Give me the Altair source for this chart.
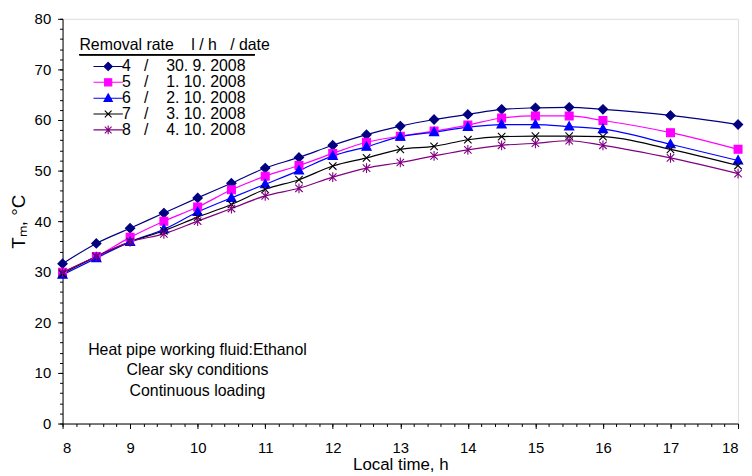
import altair as alt
import pandas as pd

hours = [8, 8.5, 9, 9.5, 10, 10.5, 11, 11.5, 12, 12.5, 13, 13.5, 14, 14.5, 15, 15.5, 16, 17, 18]

labels = [
    "4\u00a0\u00a0\u00a0/\u00a0\u00a0\u00a0\u00a030. 9. 2008",
    "5\u00a0\u00a0\u00a0/\u00a0\u00a0\u00a0\u00a01. 10. 2008",
    "6\u00a0\u00a0\u00a0/\u00a0\u00a0\u00a0\u00a02. 10. 2008",
    "7\u00a0\u00a0\u00a0/\u00a0\u00a0\u00a0\u00a03. 10. 2008",
    "8\u00a0\u00a0\u00a0/\u00a0\u00a0\u00a0\u00a04. 10. 2008",
]

s4 = [31.6, 35.6, 38.6, 41.6, 44.6, 47.5, 50.5, 52.6, 55.0, 57.1, 58.8, 60.1, 61.1, 62.1, 62.4, 62.5, 62.1, 60.9, 59.1]
s5 = [29.9, 33.0, 36.8, 40.0, 42.8, 46.2, 48.9, 51.0, 53.4, 55.6, 56.8, 57.8, 59.0, 60.4, 60.8, 60.8, 59.9, 57.5, 54.2]
s6 = [29.4, 32.7, 35.9, 38.4, 41.8, 44.6, 47.3, 50.0, 52.9, 54.7, 56.7, 57.6, 58.6, 59.1, 59.1, 58.7, 58.2, 55.2, 52.0]
s7 = [29.6, 33.0, 35.9, 38.1, 40.8, 43.3, 46.3, 48.2, 50.9, 52.5, 54.2, 54.8, 56.1, 56.7, 56.8, 56.8, 56.7, 54.2, 51.0]
s8 = [29.9, 33.0, 35.9, 37.5, 40.0, 42.5, 45.0, 46.5, 48.7, 50.5, 51.6, 52.9, 54.1, 55.0, 55.4, 55.9, 55.0, 52.5, 49.4]

series_values = [s4, s5, s6, s7, s8]
colors = ["#000080", "#FF00FF", "#0000FF", "#000000", "#800080"]

x_ticks = list(range(8, 19))
x_minor = [round(8 + 0.2 * i, 1) for i in range(51)]
y_ticks = list(range(0, 81, 10))
y_minor = list(range(0, 81, 2))

annotation = ["Heat pipe working fluid:Ethanol", "Clear sky conditions", "Continuous loading"]
legend_title = "Removal rate\u00a0\u00a0\u00a0\u00a0l / h\u00a0\u00a0\u00a0/ date"

marker_paths = [
    "M0,-1L1,0L0,1L-1,0Z",
    "M-0.85,-0.85L0.85,-0.85L0.85,0.85L-0.85,0.85Z",
    "M0,-1.05L1,0.75L-1,0.75Z",
    "M-0.8,-0.8L0.8,0.8M-0.8,0.8L0.8,-0.8",
    "M-0.8,-0.8L0.8,0.8M-0.8,0.8L0.8,-0.8M0,-1.05L0,1.05",
]
seg = "M-3.7,0L3.7,0"
legend_paths = [
    seg + "M0,-1.05L1.05,0L0,1.05L-1.05,0Z",
    seg + "M-0.9,-0.9L0.9,-0.9L0.9,0.9L-0.9,0.9Z",
    seg + "M0,-1.1L1.05,0.8L-1.05,0.8Z",
    seg + "M-0.85,-0.85L0.85,0.85M-0.85,0.85L0.85,-0.85",
    seg + "M-0.85,-0.85L0.85,0.85M-0.85,0.85L0.85,-0.85M0,-1.1L0,1.1",
]

rows = []
for lab, vals in zip(labels, series_values):
    for h, v in zip(hours, vals):
        rows.append({"series": lab, "hour": h, "temp": v})
df = pd.DataFrame(rows)

FONT = "Liberation Sans"
W, H = 681, 408

xscale = alt.Scale(domain=[8, 18], nice=False, zero=False)
yscale = alt.Scale(domain=[0, 80], nice=False)
cscale = alt.Scale(domain=labels, range=colors)

x_main = alt.X("hour:Q", scale=xscale, title="Local time, h",
               axis=alt.Axis(orient="bottom", values=x_ticks, format="d", tickSize=5, labelPadding=12,
                             titlePadding=1, grid=False, domainColor="#000000",
                             tickColor="#000000", labelFontSize=15, titleFontSize=17,
                             labelFont=FONT, titleFont=FONT, titleFontWeight="normal",
                             labelColor="#000000", titleColor="#000000"))
y_main = alt.Y("temp:Q", scale=yscale, title="Tₘ, °C",
               axis=alt.Axis(orient="left", values=y_ticks, format="d", tickSize=5, labelPadding=7,
                             titlePadding=6, grid=False, domainColor="#000000",
                             tickColor="#000000", labelFontSize=15, titleFontSize=19,
                             labelFont=FONT, titleFont=FONT, titleFontWeight="normal",
                             labelColor="#000000", titleColor="#000000"))

lines = alt.Chart(df).mark_line(interpolate="monotone", strokeWidth=1.2).encode(
    x=x_main,
    y=y_main,
    color=alt.Color("series:N", scale=cscale, legend=None),
    detail="series:N",
)

points = alt.Chart(df).mark_point(size=88, strokeWidth=1.1, opacity=1).encode(
    x=alt.X("hour:Q", scale=xscale, axis=None),
    y=alt.Y("temp:Q", scale=yscale, axis=None),
    fill=alt.Fill("series:N", scale=alt.Scale(domain=labels, range=colors), legend=None),
    stroke=alt.Stroke("series:N", scale=alt.Scale(domain=labels, range=colors), legend=None),
    shape=alt.Shape("series:N", scale=alt.Scale(domain=labels, range=marker_paths), legend=None),
)

leg = alt.Legend(
    title=legend_title, orient="none", legendX=17, legendY=18, padding=0,
    symbolSize=64, symbolOffset=21, labelOffset=6, symbolStrokeWidth=1.1,
    labelFont=FONT, labelFontSize=16, labelColor="#000000",
    titleFont=FONT, titleFontSize=16, titleFontWeight="normal", titleColor="#000000",
    titlePadding=6, rowPadding=-1, labelLimit=300, titleLimit=300,
)
legend_layer = alt.Chart(df).transform_filter("datum.hour < 0").mark_point(opacity=1).encode(
    x=alt.X("hour:Q", scale=xscale, axis=None),
    y=alt.Y("temp:Q", scale=yscale, axis=None),
    fill=alt.Fill("series:N", scale=alt.Scale(domain=labels, range=colors), legend=leg),
    stroke=alt.Stroke("series:N", scale=alt.Scale(domain=labels, range=colors), legend=leg),
    shape=alt.Shape("series:N", scale=alt.Scale(domain=labels, range=legend_paths), legend=leg),
)

underline = alt.Chart(df).mark_rule(color="#000000", strokeWidth=1).encode(
    x=alt.value(17), x2=alt.value(194), y=alt.value(36)
)

ann_text = "\n".join(annotation)
notes = alt.Chart(pd.DataFrame({"t": [ann_text]})).mark_text(
    font=FONT, fontSize=16, align="center", baseline="middle", lineHeight=20.5,
    lineBreak="\n", color="#000000"
).encode(text="t:N", x=alt.value(136), y=alt.value(334))

minor_x = alt.Chart(pd.DataFrame({"hour": x_minor})).mark_point(opacity=0).encode(
    x=alt.X("hour:Q", scale=xscale,
            axis=alt.Axis(orient="bottom", values=x_minor, labels=False, title=None, tickSize=3,
                          domain=False, grid=False, tickColor="#000000"))
)
minor_y = alt.Chart(pd.DataFrame({"temp": y_minor})).mark_point(opacity=0).encode(
    y=alt.Y("temp:Q", scale=yscale,
            axis=alt.Axis(orient="left", values=y_minor, labels=False, title=None, tickSize=3,
                          domain=False, grid=False, tickColor="#000000"))
)

chart = alt.layer(minor_x, minor_y, lines, points, legend_layer, underline, notes).resolve_scale(
    fill="independent", stroke="independent", shape="independent", color="independent"
).resolve_axis(
    x="independent", y="independent"
).resolve_legend(
    fill="independent", stroke="independent", shape="independent", color="independent"
).properties(
    width=W, height=H,
    padding={"left": 55, "top": 9, "right": 6, "bottom": 51},
    autosize=alt.AutoSizeParams(type="none"),
).configure_view(
    stroke="#8c8c8c", strokeWidth=1
).configure(background="#ffffff")

chart.save("out.html", embed_options={"renderer": "svg", "actions": False})
